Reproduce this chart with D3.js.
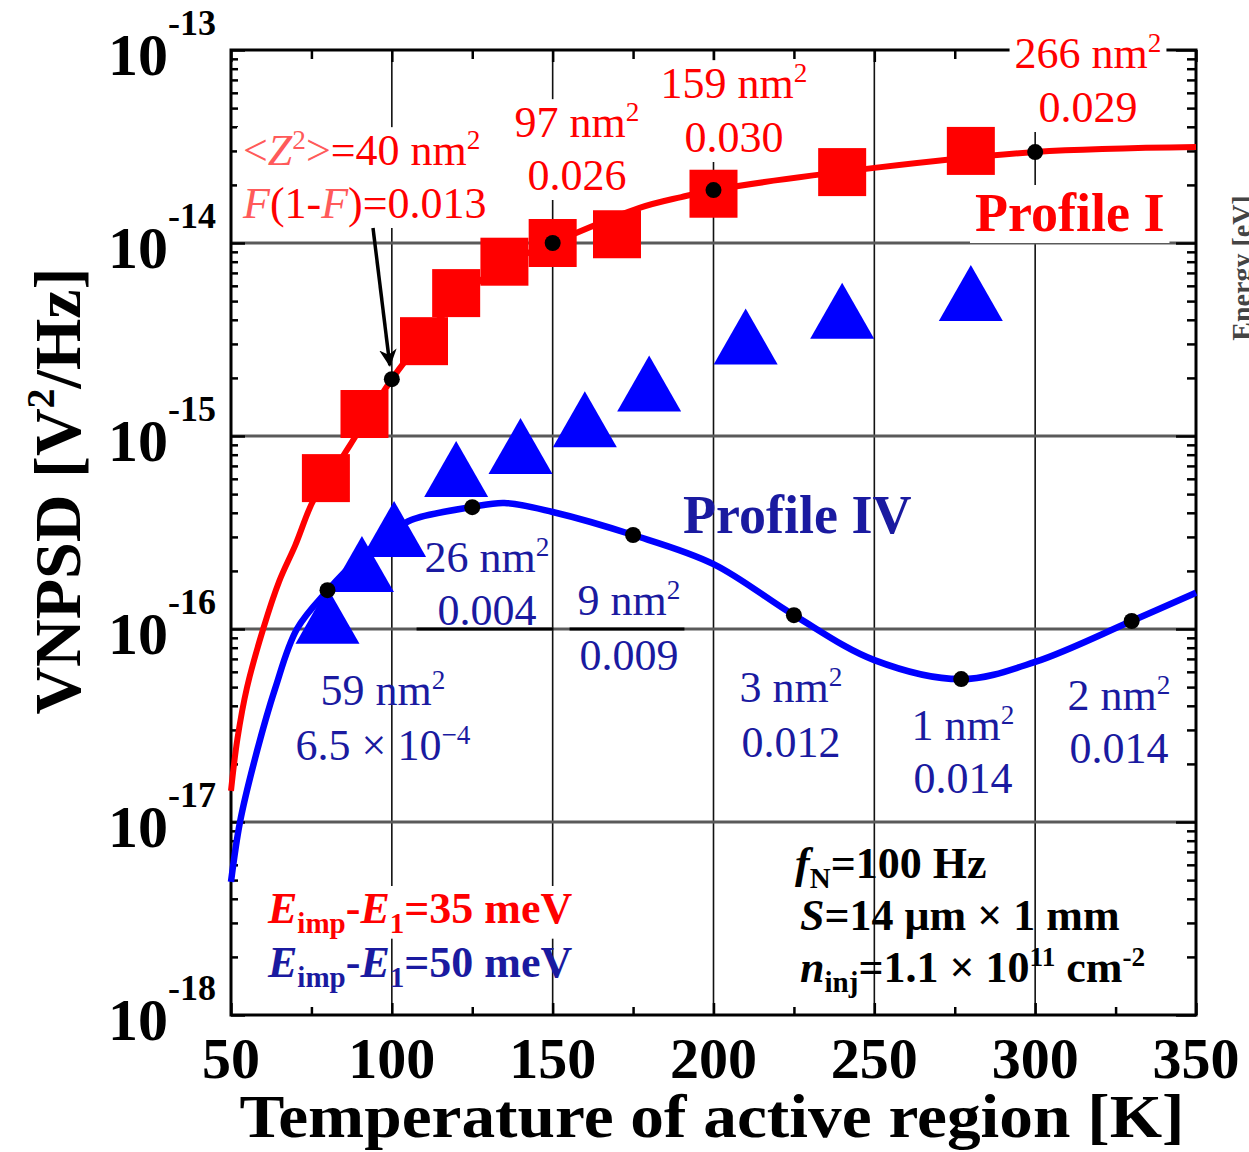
<!DOCTYPE html>
<html lang="en">
<head>
<meta charset="UTF-8">
<title>VNPSD vs temperature</title>
<script src="https://d3js.org/d3.v7.min.js"></script>
<style>
  body { margin: 0; background: #fff; }
  text { font-family: "Liberation Serif", "DejaVu Serif", "Times New Roman", serif; }
</style>
</head>
<body>
<svg id="chart" width="1249" height="1152" font-family="Liberation Serif, DejaVu Serif, serif"></svg>
<script>
// measured noise (squares = Profile I, triangles = Profile IV)
const sqTemps = [79.5, 91.5, 110, 120, 135, 150, 170, 200, 240, 280];
const sqValues = [6.05e-16, 1.30e-15, 3.1e-15, 5.5e-15, 8.0e-15, 1.0e-14, 1.11e-14, 1.80e-14, 2.33e-14, 3.0e-14];
const triTemps = [80, 90.7, 100.7, 120, 140, 160, 180, 210, 240, 280];
const triValues = [1.17e-16, 2.17e-16, 3.30e-16, 6.75e-16, 8.87e-16, 1.22e-15, 1.87e-15, 3.28e-15, 4.45e-15, 5.51e-15];

// calculated curves
const curveITemps = [50, 52, 55, 60, 65, 70, 75.5, 80, 87, 100, 110, 120, 135, 150, 177, 190, 200, 250, 300, 350];
const curveIValues = [1.45e-17, 2.7e-17, 5.0e-17, 1.0e-16, 1.77e-16, 2.72e-16, 4.6e-16, 5.9e-16, 8.97e-16, 1.97e-15,
  3.24e-15, 5.0e-15, 7.76e-15, 1.0e-14, 1.52e-14, 1.73e-14, 1.88e-14, 2.45e-14, 2.96e-14, 3.14e-14];
const curveIVTemps = [50, 52.8, 57.5, 63.7, 70.5, 80, 90, 100, 106, 125, 135, 150, 175, 200, 225, 250, 277, 300, 330, 350];
const curveIVValues = [4.9e-18, 1.0e-17, 2.14e-17, 4.9e-17, 1.0e-16, 1.58e-16, 2.34e-16, 3.16e-16, 3.67e-16, 4.29e-16,
  4.5e-16, 4.04e-16, 3.07e-16, 2.17e-16, 1.18e-16, 6.9e-17, 5.5e-17, 6.75e-17, 1.10e-16, 1.54e-16];

// points picked on the curves
const dotITemps = [100, 150, 200, 300];
const dotIValues = [1.97e-15, 1.0e-14, 1.88e-14, 2.96e-14];
const dotIVTemps = [80, 125, 175, 225, 277, 330];
const dotIVValues = [1.59e-16, 4.28e-16, 3.07e-16, 1.18e-16, 5.5e-17, 1.10e-16];

const xTicks = [50, 100, 150, 200, 250, 300, 350];
const xMinor = [75, 125, 175, 225, 275, 325];
const yTicks = [1e-18, 1e-17, 1e-16, 1e-15, 1e-14, 1e-13];
const yTickExp = ["-18", "-17", "-16", "-15", "-14", "-13"];

const RED = "#ff0000", BLUE = "#0000ff", NAVY = "#1a1aa0";
const FONT = "'Liberation Serif', 'DejaVu Serif', serif";

const svg = d3.select("#chart");
const x = d3.scaleLinear().domain([50, 350]).range([231, 1196]);
const y = d3.scaleLog().domain([1e-18, 1e-13]).range([1015, 50]);
const [x0, x1] = x.range();
const [yb, yt] = y.range();

// grid
svg.append("g").selectAll("line").data(xTicks.slice(1, -1)).join("line")
  .attr("x1", d => x(d)).attr("x2", d => x(d)).attr("y1", yt).attr("y2", yb)
  .attr("stroke", "#111").attr("stroke-width", 1.6);
svg.append("g").selectAll("line").data(yTicks.slice(1, -1)).join("line")
  .attr("x1", x0).attr("x2", x1).attr("y1", d => y(d)).attr("y2", d => y(d))
  .attr("stroke", "#5a5a5a").attr("stroke-width", 3);

// frame + ticks (inward)
const yMinor = y.ticks().filter(v => Math.abs(Math.log10(v) - Math.round(Math.log10(v))) > 1e-6);
function tickLayer(axis, tx, ty) {
  const g = svg.append("g").attr("transform", `translate(${tx},${ty})`).call(axis);
  g.select(".domain").remove();
  g.selectAll("line").attr("stroke", "#000").attr("stroke-width", 2.5);
  g.selectAll("text").remove();
}
tickLayer(d3.axisLeft(y).tickValues(yMinor).tickSize(-7), x0, 0);
tickLayer(d3.axisLeft(y).tickValues(yTicks).tickSize(-14), x0, 0);
tickLayer(d3.axisRight(y).tickValues(yMinor).tickSize(-9), x1, 0);
tickLayer(d3.axisRight(y).tickValues(yTicks).tickSize(-20), x1, 0);
tickLayer(d3.axisBottom(x).tickValues(xMinor).tickSize(-8), 0, yb);
tickLayer(d3.axisBottom(x).tickValues(xTicks).tickSize(-12), 0, yb);
tickLayer(d3.axisTop(x).tickValues(xMinor).tickSize(-9), 0, yt);
tickLayer(d3.axisTop(x).tickValues(xTicks).tickSize(-12), 0, yt);
svg.append("rect").attr("x", x0).attr("y", yt).attr("width", x1 - x0).attr("height", yb - yt)
  .attr("fill", "none").attr("stroke", "#000").attr("stroke-width", 3);

const bgLayer = svg.append("g");
const plotLayer = svg.append("g");
const textLayer = svg.append("g").attr("font-family", FONT);

// rich text helper: parts are [text, kind, colour]
function rich(px, py, parts, o) {
  const t = textLayer.append("text")
    .attr("x", px).attr("y", py)
    .attr("font-family", FONT)
    .attr("text-anchor", o.anchor || "start")
    .attr("font-size", o.size)
    .attr("font-weight", o.weight || "normal")
    .attr("fill", o.fill);
  let shift = 0;
  parts.forEach(p => {
    const [str, kind, col] = p;
    const ts = t.append("tspan").text(str);
    let target = 0;
    if (kind === "sup") { target = -0.36 * o.size; ts.attr("font-size", o.size * 0.62); }
    if (kind === "sub") { target = 0.22 * o.size; ts.attr("font-size", o.size * 0.66); }
    if (kind === "i") ts.attr("font-style", "italic");
    if (target !== shift) { ts.attr("dy", target - shift); shift = target; }
    if (col) ts.attr("fill", col);
  });
  return t;
}
function label(px, ys, lines, o) {
  const nodes = lines.map((ln, i) => rich(px, ys[i], ln, o));
  if (o.bg || o.rule) {
    let bx0 = 1e9, by0 = 1e9, bx1 = -1e9, by1 = -1e9;
    nodes.forEach(n => {
      const b = n.node().getBBox();
      bx0 = Math.min(bx0, b.x); by0 = Math.min(by0, b.y);
      bx1 = Math.max(bx1, b.x + b.width); by1 = Math.max(by1, b.y + b.height);
    });
    if (o.bg) bgLayer.append("rect").attr("x", bx0 - 5).attr("y", by0 + 2)
      .attr("width", bx1 - bx0 + 10).attr("height", by1 - by0 - 2).attr("fill", "#fff");
    // text box edge that darkens the grid line below some labels
    if (o.rule) bgLayer.append("line").attr("x1", bx0 - 8).attr("x2", bx1 + 4)
      .attr("y1", y(o.rule)).attr("y2", y(o.rule)).attr("stroke", "#000").attr("stroke-width", 3);
  }
}

// curves
const line = d3.line().x(d => x(d[0])).y(d => y(d[1])).curve(d3.curveCatmullRom.alpha(0.5));
plotLayer.append("path").datum(d3.zip(curveITemps, curveIValues)).attr("d", line)
  .attr("fill", "none").attr("stroke", RED).attr("stroke-width", 6);
plotLayer.append("path").datum(d3.zip(curveIVTemps, curveIVValues)).attr("d", line)
  .attr("fill", "none").attr("stroke", BLUE).attr("stroke-width", 6.5);

// markers
const sq = 48, tw = 64, th = 56;
plotLayer.append("g").selectAll("rect").data(d3.zip(sqTemps, sqValues)).join("rect")
  .attr("x", d => x(d[0]) - sq / 2).attr("y", d => y(d[1]) - sq / 2)
  .attr("width", sq).attr("height", sq).attr("fill", RED);
plotLayer.append("g").selectAll("path").data(d3.zip(triTemps, triValues)).join("path")
  .attr("d", d => {
    const cx = x(d[0]), cy = y(d[1]);
    return `M${cx},${cy - th / 2}L${cx + tw / 2},${cy + th / 2}L${cx - tw / 2},${cy + th / 2}Z`;
  })
  .attr("fill", BLUE);

// picked points
plotLayer.append("g").selectAll("circle")
  .data(d3.zip(dotITemps, dotIValues).concat(d3.zip(dotIVTemps, dotIVValues))).join("circle")
  .attr("cx", d => x(d[0])).attr("cy", d => y(d[1])).attr("r", 8).attr("fill", "#000");

// arrow to the 100 K point
svg.append("defs").append("marker").attr("id", "ah")
  .attr("viewBox", "0 0 10 10").attr("refX", 9).attr("refY", 5)
  .attr("markerWidth", 5).attr("markerHeight", 5).attr("orient", "auto")
  .append("path").attr("d", "M0,0L10,5L0,10L3,5Z").attr("fill", "#000");
plotLayer.append("line")
  .attr("x1", 373).attr("y1", 228).attr("x2", x(dotITemps[0]) - 2).attr("y2", y(dotIValues[0]) - 14)
  .attr("stroke", "#000").attr("stroke-width", 3.5).attr("marker-end", "url(#ah)");

// annotations
const LP = "#ff5a5a";
const red = { size: 44, fill: RED, anchor: "middle", bg: true };
label(243, [165, 218], [
  [["<", "", LP], ["Z", "i", LP], ["2", "sup", LP], [">", "", LP], ["=40 nm"], ["2", "sup"]],
  [["F", "i", LP], ["(1-"], ["F", "i", LP], [")=0.013"]]
], { size: 44, fill: RED, anchor: "start", bg: true });
label(577, [137, 190], [[["97 nm"], ["2", "sup"]], [["0.026"]]], red);
label(734, [98, 152], [[["159 nm"], ["2", "sup"]], [["0.030"]]], red);
label(1088, [68, 122], [[["266 nm"], ["2", "sup"]], [["0.029"]]], red);
label(975, [231], [[["Profile I"]]], { size: 54, weight: "bold", fill: RED, anchor: "start", bg: true });

const blue = { size: 44, fill: NAVY, anchor: "middle" };
label(683, [533], [[["Profile IV"]]], { size: 54, weight: "bold", fill: NAVY, anchor: "start" });
label(487, [572, 625], [[["26 nm"], ["2", "sup"]], [["0.004"]]], { ...blue, rule: 1e-16 });
label(629, [615, 670], [[["9 nm"], ["2", "sup"]], [["0.009"]]], { ...blue, rule: 1e-16 });
label(383, [705, 760], [[["59 nm"], ["2", "sup"]], [["6.5 × 10"], ["−4", "sup"]]], blue);
label(791, [702, 757], [[["3 nm"], ["2", "sup"]], [["0.012"]]], blue);
label(963, [740, 793], [[["1 nm"], ["2", "sup"]], [["0.014"]]], blue);
label(1119, [710, 763], [[["2 nm"], ["2", "sup"]], [["0.014"]]], blue);

label(268, [923], [[["E", "i"], ["imp", "sub"], ["-"], ["E", "i"], ["1", "sub"], ["=35 meV"]]],
  { size: 44, weight: "bold", fill: RED, anchor: "start", bg: true });
label(268, [977], [[["E", "i"], ["imp", "sub"], ["-"], ["E", "i"], ["1", "sub"], ["=50 meV"]]],
  { size: 44, weight: "bold", fill: NAVY, anchor: "start" });

const blk = { size: 44, weight: "bold", fill: "#000", anchor: "start" };
label(795, [878], [[["f", "i"], ["N", "sub"], ["=100 Hz"]]], blk);
label(800, [930], [[["S", "i"], ["=14 μm × 1 mm"]]], blk);
label(800, [982], [[["n", "i"], ["inj", "sub"], ["=1.1 × 10"], ["11", "sup"], ["  cm"], ["-2", "sup"]]], blk);

// axis labels
const yLab = textLayer.append("g");
yTicks.forEach((v, i) => {
  const t = yLab.append("text").attr("x", 216).attr("y", y(v) + 25)
    .attr("font-family", FONT)
    .attr("text-anchor", "end").attr("font-weight", "bold").attr("fill", "#000");
  t.append("tspan").attr("font-size", 60).text("10");
  t.append("tspan").attr("font-size", 36).attr("dy", -40).text(yTickExp[i]);
});
textLayer.append("g").selectAll("text").data(xTicks).join("text")
  .attr("x", d => x(d)).attr("y", 1078).attr("text-anchor", "middle")
  .attr("font-family", FONT)
  .attr("font-size", 58).attr("font-weight", "bold").text(d => d);

textLayer.append("text").attr("x", 712).attr("y", 1137).attr("text-anchor", "middle")
  .attr("font-family", FONT)
  .attr("font-size", 62).attr("font-weight", "bold")
  .attr("textLength", 945).attr("lengthAdjust", "spacingAndGlyphs")
  .text("Temperature of active region [K]");

const yt2 = textLayer.append("text").attr("transform", "translate(80,491) rotate(-90)")
  .attr("font-family", FONT)
  .attr("text-anchor", "middle").attr("font-size", 66).attr("font-weight", "bold");
yt2.append("tspan").text("VNPSD [V");
yt2.append("tspan").attr("font-size", 40).attr("dy", -26).text("2");
yt2.append("tspan").attr("dy", 26).text("/Hz]");

// clipped label of the neighbouring panel
textLayer.append("text").attr("transform", "translate(1251,268) rotate(-90)")
  .attr("font-family", FONT)
  .attr("text-anchor", "middle").attr("font-size", 28).attr("font-weight", "bold")
  .attr("fill", "#444").text("Energy [eV]");
</script>
</body>
</html>
